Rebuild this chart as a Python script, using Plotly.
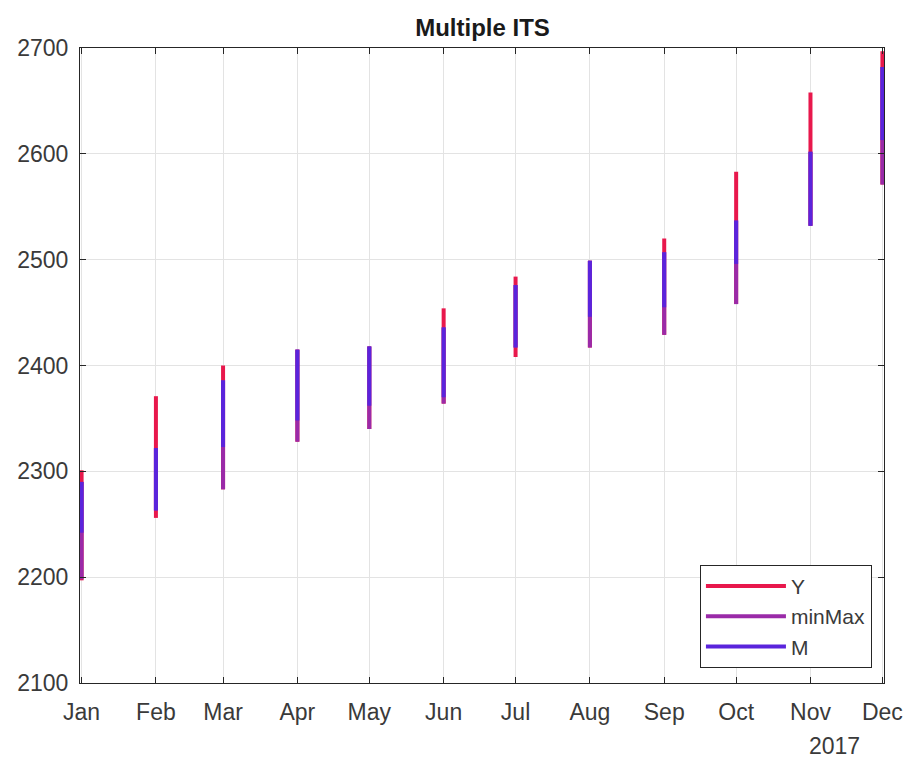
import plotly.graph_objects as go

months = ["2017-01-01", "2017-02-01", "2017-03-01", "2017-04-01", "2017-05-01", "2017-06-01",
          "2017-07-01", "2017-08-01", "2017-09-01", "2017-10-01", "2017-11-01", "2017-12-01"]
y_lo = [2197, 2256, 2283, 2328, 2340, 2364, 2408, 2417, 2429, 2458, 2532, 2571]
y_hi = [2301, 2371, 2400, 2415, 2418, 2454, 2484, 2499, 2520, 2583, 2658, 2697]
mm_lo = [2198, 2263, 2283, 2328, 2340, 2364, 2417, 2417, 2429, 2458, 2532, 2571]
mm_hi = [2290, 2322, 2386, 2415, 2418, 2436, 2476, 2499, 2507, 2537, 2602, 2682]
m_lo = [2242, 2263, 2323, 2348, 2362, 2370, 2417, 2446, 2455, 2496, 2532, 2613]
m_hi = [2290, 2322, 2386, 2415, 2418, 2436, 2476, 2499, 2507, 2537, 2602, 2682]
series_names = ["Y", "minMax", "M"]
colors = ["#e8184c", "#9a2aa8", "#5a24dc"]
yticks = [2100, 2200, 2300, 2400, 2500, 2600, 2700]
FONT = "Liberation Sans, Arial, Helvetica, sans-serif"


def segs(lo, hi):
    xs, ys = [], []
    for d, a, b in zip(months, lo, hi):
        xs += [d, d, None]
        ys += [a, b, None]
    return xs, ys


fig = go.Figure()
for name, lo, hi, c in zip(series_names, [y_lo, mm_lo, m_lo], [y_hi, mm_hi, m_hi], colors):
    xs, ys = segs(lo, hi)
    fig.add_trace(go.Scatter(x=xs, y=ys, mode="lines", name=name,
                             line=dict(color=c, width=4), connectgaps=False))

axis_common = dict(showline=True, linecolor="#262626", linewidth=1, mirror="ticks",
                   ticks="inside", ticklen=6, tickcolor="#262626", automargin=False,
                   showgrid=True, gridcolor="#e3e3e3", gridwidth=1, zeroline=False,
                   tickfont=dict(family=FONT, size=23, color="#3a3a3a"))

fig.update_xaxes(type="date", range=["2016-12-31 08:00", "2017-12-01 16:00"], dtick="M1",
                 tickformat="%b", tick0="2017-01-01", ticklabelstandoff=8, **axis_common)
fig.update_yaxes(range=[2100, 2700], tickvals=yticks, ticklabelstandoff=6, **axis_common)

fig.update_layout(
    width=907, height=758,
    margin=dict(l=80, r=23, t=48, b=75),
    paper_bgcolor="white", plot_bgcolor="white",
    title=dict(text="<b>Multiple ITS</b>", x=0.532, xanchor="center",
               y=1 - 28 / 758, yanchor="middle", yref="container",
               font=dict(family=FONT, size=24, color="#1a1a1a")),
    showlegend=True,
    legend=dict(x=0.985, xanchor="right", y=0.024, yanchor="bottom",
                bgcolor="white", bordercolor="#262626", borderwidth=1,
                font=dict(family=FONT, size=21, color="#3a3a3a"),
                itemwidth=80, tracegroupgap=0),
    annotations=[dict(text="2017", xref="paper", yref="paper", x=0.9726, y=0,
                      xanchor="right", yanchor="middle", yshift=-63, showarrow=False,
                      font=dict(family=FONT, size=23, color="#3a3a3a"))],
)

fig.write_html("out.html")
